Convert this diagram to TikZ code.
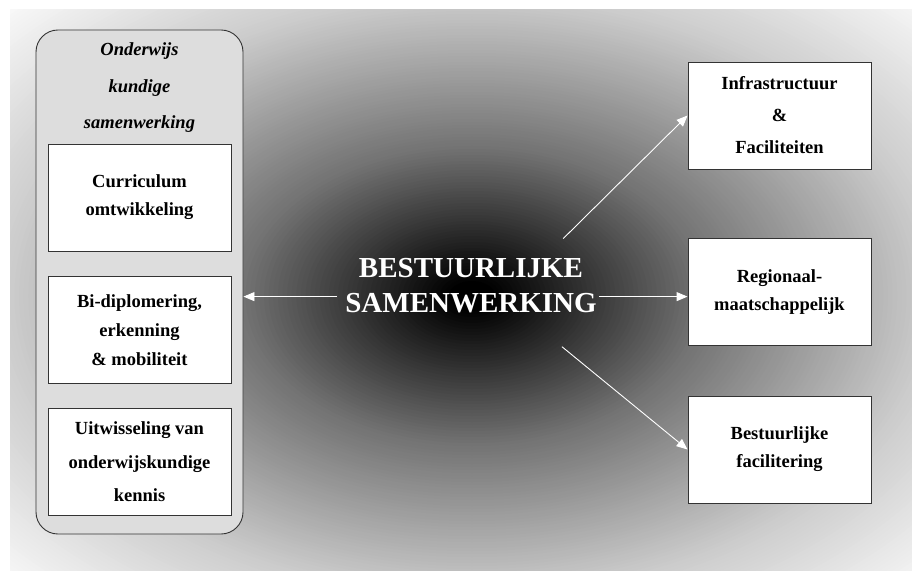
\documentclass[tikz,border=0pt]{standalone}
\usepackage{fontspec}
\setmainfont{Liberation Serif}
\usetikzlibrary{arrows.meta, positioning, calc}
\definecolor{rand}{HTML}{333333}
\definecolor{groepgrijs}{HTML}{DDDDDD}

\begin{document}
\begin{tikzpicture}[
  x=1bp, y=-1bp,
  >={Triangle[length=11bp, width=9bp]},
  kbox/.style={
    draw=rand, line width=0.9bp, fill=white,
    minimum width=183bp, minimum height=107bp, inner sep=0pt,
    align=center, font=\fontsize{18.5bp}{#1}\selectfont\bfseries
  },
  kbox/.default=28bp,
  groep/.style={
    draw=rand, line width=0.9bp, fill=groepgrijs, rounded corners=22bp,
    minimum width=207bp, minimum height=504bp
  },
  midtxt/.style={text=white, inner sep=0pt, font=\fontsize{29bp}{34bp}\selectfont\bfseries},
  arr/.style={->, white, line width=0.9bp},
]

\useasboundingbox (0,0) rectangle (912,571);

% Background: dark centre fading out to white
\begin{scope}
  \clip (10,10) rectangle (912,571);
  \fill[white] (10,10) rectangle (912,571);
  \foreach \i in {140,...,1} {
    \pgfmathsetmacro\u{\i/100}
    \pgfmathsetmacro\w{\u<0.05 ? 0 : (\u<0.5 ? (\u-0.05)/0.45*45 : (\u<1 ? 45+(\u-0.5)*70 : min(100,80+(\u-1)*45)))}
    \pgfmathsetmacro\z{100-\w}
    \fill[black!\z] (472,296) ellipse [x radius=\u*462, y radius=\u*300];
  }
\end{scope}

% Left group
\node[groep] (onderwijs) at (139.5,282) {};
\node[align=center, font=\fontsize{18.5bp}{36.5bp}\selectfont\bfseries\itshape] (titel) at (139.5,88)
  {Onderwijs\\kundige\\samenwerking};

\node[kbox] (curriculum) at (139.5,197.5) {Curriculum\\omtwikkeling};
\node[kbox=29bp] (bidiploma) at (139.5,330) {Bi-diplomering,\\erkenning\\\& mobiliteit};
\node[kbox=33.5bp] (uitwisseling) at (139.5,462)
  {Uitwisseling van\\onderwijskundige\\kennis};

% Right boxes
\node[kbox=32bp] (infra) at (779.5,115.5) {Infrastructuur\\\&\\Faciliteiten};
\node[kbox] (regio) at (779.5,292) {Regionaal-\\maatschappelijk};
\node[kbox] (facil) at (779.5,449.5) {Bestuurlijke\\facilitering};

% Centre
\node[midtxt, anchor=base] (bestuur) at (471,277) {BESTUURLIJKE};
\node[midtxt, anchor=base] (samen) at (471,312) {SAMENWERKING};

\coordinate (links) at ($(samen.west)+(-8,-6)$);
\coordinate (rechts) at ($(samen.east)+(2,-6)$);
\coordinate (boven) at ($(bestuur.north east)+(-20,-19)$);
\coordinate (onder) at ($(samen.south east)+(-35,34)$);

% Arrows
\draw[arr] (links) -- (links -| onderwijs.east);
\draw[arr] (rechts) -- (rechts -| regio.west);
\draw[arr] (boven) -- (infra.west);
\draw[arr] (onder) -- (facil.west);

\end{tikzpicture}
\end{document}
